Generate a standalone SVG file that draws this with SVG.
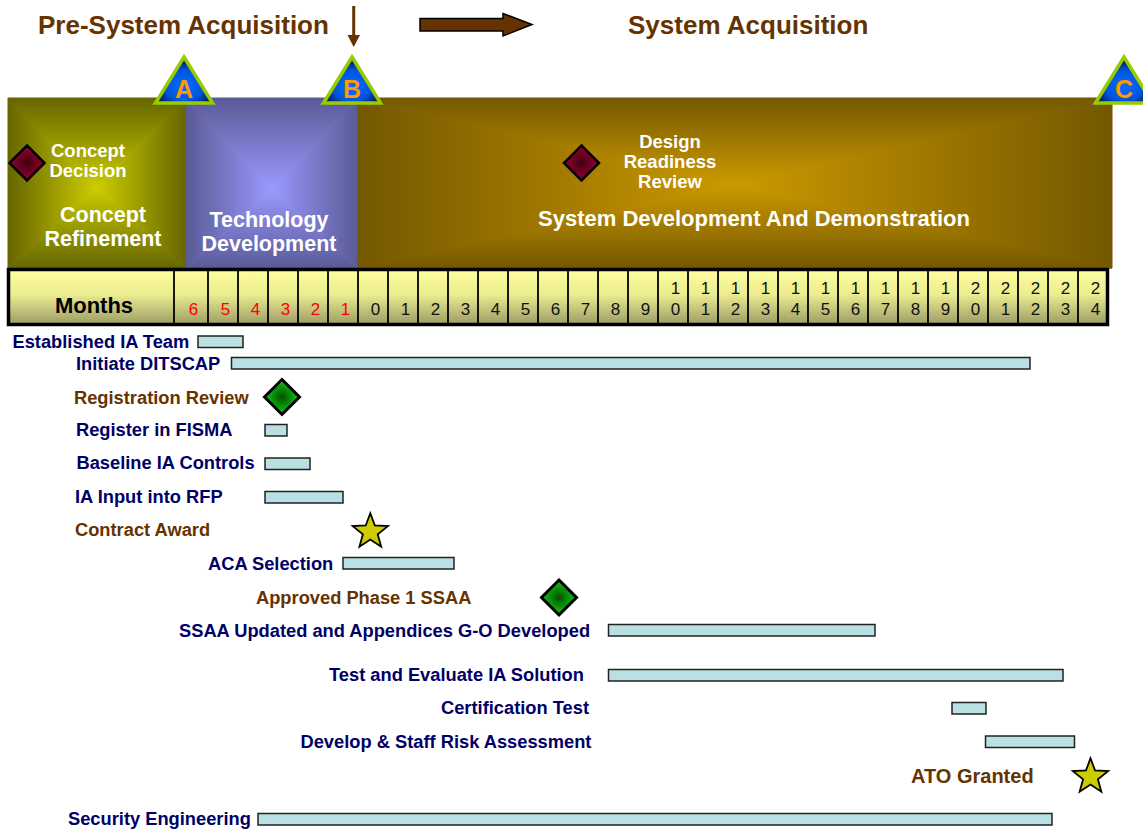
<svg xmlns="http://www.w3.org/2000/svg" xmlns:xlink="http://www.w3.org/1999/xlink" width="1143" height="829" viewBox="0 0 1143 829">
<style>
  text { font-family: "Liberation Sans", Arial, sans-serif; }
  .title { font-size: 26px; font-weight: bold; fill: #663300; }
  .lbl { font-size: 18.3px; font-weight: bold; fill: #000066; }
  .brn { fill: #663300; }
  .wt { fill: #ffffff; font-weight: bold; text-anchor: middle; }
  .s18 { font-size: 18.5px; }
  .s21 { font-size: 21.5px; }
  .s22 { font-size: 22px; }
  .bar { fill: #b9e0e3; stroke: #222222; stroke-width: 1.5; }
  .dg { font-size: 17px; text-anchor: middle; fill: #111111; }
  .neg { fill: #ff0000; }
  .sep { stroke: #000000; stroke-width: 1.8; }
  .tri { stroke: #99cc00; stroke-width: 3.5; stroke-linejoin: miter; fill: url(#gTri); }
  .tl { font-size: 25px; font-weight: bold; fill: #ff9900; text-anchor: middle; }
</style>
<defs>
  <!-- Concept Refinement box gradient -->
  <linearGradient id="gCRt" gradientUnits="userSpaceOnUse" x1="0" y1="98" x2="0" y2="188"><stop offset="0" stop-color="#666600"/><stop offset="1" stop-color="#cccc00"/></linearGradient>
  <linearGradient id="gCRb" gradientUnits="userSpaceOnUse" x1="0" y1="268" x2="0" y2="188"><stop offset="0" stop-color="#666600"/><stop offset="1" stop-color="#cccc00"/></linearGradient>
  <linearGradient id="gCRl" gradientUnits="userSpaceOnUse" x1="8" y1="0" x2="97" y2="0"><stop offset="0" stop-color="#666600"/><stop offset="1" stop-color="#cccc00"/></linearGradient>
  <linearGradient id="gCRr" gradientUnits="userSpaceOnUse" x1="186" y1="0" x2="97" y2="0"><stop offset="0" stop-color="#666600"/><stop offset="1" stop-color="#cccc00"/></linearGradient>
  <!-- Technology Development box gradient -->
  <linearGradient id="gTDt" gradientUnits="userSpaceOnUse" x1="0" y1="98" x2="0" y2="190"><stop offset="0" stop-color="#5a5a96"/><stop offset="1" stop-color="#9999ff"/></linearGradient>
  <linearGradient id="gTDb" gradientUnits="userSpaceOnUse" x1="0" y1="268" x2="0" y2="190"><stop offset="0" stop-color="#5a5a96"/><stop offset="1" stop-color="#9999ff"/></linearGradient>
  <linearGradient id="gTDl" gradientUnits="userSpaceOnUse" x1="186" y1="0" x2="272" y2="0"><stop offset="0" stop-color="#5a5a96"/><stop offset="1" stop-color="#9999ff"/></linearGradient>
  <linearGradient id="gTDr" gradientUnits="userSpaceOnUse" x1="358" y1="0" x2="272" y2="0"><stop offset="0" stop-color="#5a5a96"/><stop offset="1" stop-color="#9999ff"/></linearGradient>
  <!-- System Development box gradient -->
  <linearGradient id="gSDt" gradientUnits="userSpaceOnUse" x1="0" y1="98" x2="0" y2="185"><stop offset="0" stop-color="#745800"/><stop offset="1" stop-color="#cc9900"/></linearGradient>
  <linearGradient id="gSDb" gradientUnits="userSpaceOnUse" x1="0" y1="268" x2="0" y2="185"><stop offset="0" stop-color="#745800"/><stop offset="1" stop-color="#cc9900"/></linearGradient>
  <linearGradient id="gSDl" gradientUnits="userSpaceOnUse" x1="358" y1="0" x2="735" y2="0"><stop offset="0" stop-color="#745800"/><stop offset="1" stop-color="#cc9900"/></linearGradient>
  <linearGradient id="gSDr" gradientUnits="userSpaceOnUse" x1="1112" y1="0" x2="735" y2="0"><stop offset="0" stop-color="#745800"/><stop offset="1" stop-color="#cc9900"/></linearGradient>
  <!-- months cells -->
  <linearGradient id="gCell" x1="0" y1="0" x2="0" y2="1">
    <stop offset="0" stop-color="#ffffa0"/><stop offset="0.45" stop-color="#ecec90"/><stop offset="1" stop-color="#9c9c68"/>
  </linearGradient>
  <radialGradient id="gTri" cx="0.5" cy="0.62" r="0.55">
    <stop offset="0" stop-color="#0a6cff"/><stop offset="0.6" stop-color="#0055dd"/><stop offset="1" stop-color="#001a55"/>
  </radialGradient>
  <radialGradient id="gRed" cx="0.5" cy="0.5" r="0.5">
    <stop offset="0" stop-color="#3d0010"/><stop offset="1" stop-color="#a00033"/>
  </radialGradient>
  <radialGradient id="gGreen" cx="0.5" cy="0.5" r="0.5">
    <stop offset="0" stop-color="#005000"/><stop offset="1" stop-color="#11cc11"/>
  </radialGradient>
  <path id="dia" d="M0,-17.5 L17.5,0 L0,17.5 L-17.5,0 Z"/>
  <path id="star" d="M0,-18.5 L4.58,-6.31 L17.59,-5.72 L7.42,2.41 L10.87,14.97 L0,7.8 L-10.87,14.97 L-7.42,2.41 L-17.59,-5.72 L-4.58,-6.31 Z" fill="#cccc00" stroke="#000000" stroke-width="1.8" stroke-linejoin="miter"/>
  <polygon id="tri" points="0,0 28.5,46 -28.5,46"/>
</defs>
<rect x="0" y="0" width="1143" height="829" fill="#ffffff"/>

<!-- titles -->
<g id="titles">
  <text class="title" x="38" y="34">Pre-System Acquisition</text>
  <text class="title" x="628" y="34">System Acquisition</text>
</g>

<!-- connectors (arrows) -->
<g id="connectors">
  <line x1="353.7" y1="6" x2="353.7" y2="36" stroke="#663300" stroke-width="3"/>
  <polygon points="347.5,35 360,35 353.7,47" fill="#663300"/>
  <polygon points="420,18.5 503,18.5 503,13.5 532,24.5 503,36 503,31 420,31" fill="#663300" stroke="#000000" stroke-width="1.5"/>
</g>

<!-- phase blocks -->
<g id="phase-concept-refinement">
  <polygon points="8,98 186,98 97,188" fill="url(#gCRt)" stroke="url(#gCRt)" stroke-width="1"/>
  <polygon points="8,268 186,268 97,188" fill="url(#gCRb)" stroke="url(#gCRb)" stroke-width="1"/>
  <polygon points="8,98 8,268 97,188" fill="url(#gCRl)" stroke="url(#gCRl)" stroke-width="1"/>
  <polygon points="186,98 186,268 97,188" fill="url(#gCRr)" stroke="url(#gCRr)" stroke-width="1"/>
  <text class="wt s21" x="103" y="222">Concept</text>
  <text class="wt s21" x="103" y="246">Refinement</text>
</g>
<g id="phase-technology-development">
  <polygon points="186,98 358,98 272,190" fill="url(#gTDt)" stroke="url(#gTDt)" stroke-width="1"/>
  <polygon points="186,268 358,268 272,190" fill="url(#gTDb)" stroke="url(#gTDb)" stroke-width="1"/>
  <polygon points="186,98 186,268 272,190" fill="url(#gTDl)" stroke="url(#gTDl)" stroke-width="1"/>
  <polygon points="358,98 358,268 272,190" fill="url(#gTDr)" stroke="url(#gTDr)" stroke-width="1"/>
  <text class="wt s21" x="269" y="226.5">Technology</text>
  <text class="wt s21" x="269" y="250.5">Development</text>
</g>
<g id="phase-system-development">
  <polygon points="358,98 1112,98 735,185" fill="url(#gSDt)" stroke="url(#gSDt)" stroke-width="1"/>
  <polygon points="358,268 1112,268 735,185" fill="url(#gSDb)" stroke="url(#gSDb)" stroke-width="1"/>
  <polygon points="358,98 358,268 735,185" fill="url(#gSDl)" stroke="url(#gSDl)" stroke-width="1"/>
  <polygon points="1112,98 1112,268 735,185" fill="url(#gSDr)" stroke="url(#gSDr)" stroke-width="1"/>
  <text class="wt s22" x="754" y="226">System Development And Demonstration</text>
</g>

<!-- milestones -->
<g id="concept-decision">
  <use href="#dia" x="27" y="163" fill="url(#gRed)" stroke="#000000" stroke-width="2.5"/>
  <text class="wt s18" x="88" y="157">Concept</text>
  <text class="wt s18" x="88" y="177">Decision</text>
</g>
<g id="design-readiness-review">
  <use href="#dia" x="581.5" y="163" fill="url(#gRed)" stroke="#000000" stroke-width="2.5"/>
  <text class="wt s18" x="670" y="148">Design</text>
  <text class="wt s18" x="670" y="168">Readiness</text>
  <text class="wt s18" x="670" y="188">Review</text>
</g>
<g id="milestone-a">
  <use href="#tri" x="184" y="57" class="tri"/>
  <text class="tl" x="184" y="97.5">A</text>
</g>
<g id="milestone-b">
  <use href="#tri" x="352" y="57" class="tri"/>
  <text class="tl" x="352" y="97.5">B</text>
</g>
<g id="milestone-c">
  <use href="#tri" x="1124" y="57" class="tri"/>
  <text class="tl" x="1124" y="97.5">C</text>
</g>

<!-- months row -->
<g id="months-row">
  <rect x="8.5" y="269.5" width="1099" height="55" fill="url(#gCell)" stroke="#000000" stroke-width="3.5"/>
  <g class="sep">
    <line x1="174" y1="271" x2="174" y2="323"/>
    <line x1="208" y1="271" x2="208" y2="323"/>
    <line x1="238" y1="271" x2="238" y2="323"/>
    <line x1="268" y1="271" x2="268" y2="323"/>
    <line x1="298" y1="271" x2="298" y2="323"/>
    <line x1="328" y1="271" x2="328" y2="323"/>
    <line x1="358" y1="271" x2="358" y2="323"/>
    <line x1="388" y1="271" x2="388" y2="323"/>
    <line x1="418" y1="271" x2="418" y2="323"/>
    <line x1="448" y1="271" x2="448" y2="323"/>
    <line x1="478" y1="271" x2="478" y2="323"/>
    <line x1="508" y1="271" x2="508" y2="323"/>
    <line x1="538" y1="271" x2="538" y2="323"/>
    <line x1="568" y1="271" x2="568" y2="323"/>
    <line x1="598" y1="271" x2="598" y2="323"/>
    <line x1="628" y1="271" x2="628" y2="323"/>
    <line x1="658" y1="271" x2="658" y2="323"/>
    <line x1="688" y1="271" x2="688" y2="323"/>
    <line x1="718" y1="271" x2="718" y2="323"/>
    <line x1="748" y1="271" x2="748" y2="323"/>
    <line x1="778" y1="271" x2="778" y2="323"/>
    <line x1="808" y1="271" x2="808" y2="323"/>
    <line x1="838" y1="271" x2="838" y2="323"/>
    <line x1="868" y1="271" x2="868" y2="323"/>
    <line x1="898" y1="271" x2="898" y2="323"/>
    <line x1="928" y1="271" x2="928" y2="323"/>
    <line x1="958" y1="271" x2="958" y2="323"/>
    <line x1="988" y1="271" x2="988" y2="323"/>
    <line x1="1018" y1="271" x2="1018" y2="323"/>
    <line x1="1048" y1="271" x2="1048" y2="323"/>
    <line x1="1078" y1="271" x2="1078" y2="323"/>
  </g>
  <text x="94" y="313" font-size="22" font-weight="bold" text-anchor="middle" fill="#000000">Months</text>
  <g class="dg">
    <text class="neg" x="193.5" y="315">6</text>
    <text class="neg" x="225.5" y="315">5</text>
    <text class="neg" x="255.5" y="315">4</text>
    <text class="neg" x="285.5" y="315">3</text>
    <text class="neg" x="315.5" y="315">2</text>
    <text class="neg" x="345.5" y="315">1</text>
    <text x="375.5" y="315">0</text>
    <text x="405.5" y="315">1</text>
    <text x="435.5" y="315">2</text>
    <text x="465.5" y="315">3</text>
    <text x="495.5" y="315">4</text>
    <text x="525.5" y="315">5</text>
    <text x="555.5" y="315">6</text>
    <text x="585.5" y="315">7</text>
    <text x="615.5" y="315">8</text>
    <text x="645.5" y="315">9</text>
    <text x="675.5" y="294">1</text><text x="675.5" y="315">0</text>
    <text x="705.5" y="294">1</text><text x="705.5" y="315">1</text>
    <text x="735.5" y="294">1</text><text x="735.5" y="315">2</text>
    <text x="765.5" y="294">1</text><text x="765.5" y="315">3</text>
    <text x="795.5" y="294">1</text><text x="795.5" y="315">4</text>
    <text x="825.5" y="294">1</text><text x="825.5" y="315">5</text>
    <text x="855.5" y="294">1</text><text x="855.5" y="315">6</text>
    <text x="885.5" y="294">1</text><text x="885.5" y="315">7</text>
    <text x="915.5" y="294">1</text><text x="915.5" y="315">8</text>
    <text x="945.5" y="294">1</text><text x="945.5" y="315">9</text>
    <text x="975.5" y="294">2</text><text x="975.5" y="315">0</text>
    <text x="1005.5" y="294">2</text><text x="1005.5" y="315">1</text>
    <text x="1035.5" y="294">2</text><text x="1035.5" y="315">2</text>
    <text x="1065.5" y="294">2</text><text x="1065.5" y="315">3</text>
    <text x="1095.5" y="294">2</text><text x="1095.5" y="315">4</text>
  </g>
</g>

<!-- tasks -->
<g id="task-established-ia-team">
  <text class="lbl" x="12.5" y="348">Established IA Team</text>
  <rect class="bar" x="198" y="336" width="45" height="11.5"/>
</g>
<g id="task-initiate-ditscap">
  <text class="lbl" x="76" y="370">Initiate DITSCAP</text>
  <rect class="bar" x="231.5" y="357.5" width="798.5" height="11.5"/>
</g>
<g id="milestone-registration-review">
  <text class="lbl brn" x="74" y="404">Registration Review</text>
  <use href="#dia" x="282" y="397" fill="url(#gGreen)" stroke="#000000" stroke-width="3"/>
</g>
<g id="task-register-fisma">
  <text class="lbl" x="76" y="436">Register in FISMA</text>
  <rect class="bar" x="265" y="424.5" width="22" height="11.5"/>
</g>
<g id="task-baseline-ia-controls">
  <text class="lbl" x="76.5" y="469">Baseline IA Controls</text>
  <rect class="bar" x="265" y="458" width="45" height="11.5"/>
</g>
<g id="task-ia-input-rfp">
  <text class="lbl" x="75" y="503">IA Input into RFP</text>
  <rect class="bar" x="265" y="491.5" width="78" height="11.5"/>
</g>
<g id="milestone-contract-award">
  <text class="lbl brn" x="75" y="536">Contract Award</text>
  <use href="#star" x="370.3" y="531.8"/>
</g>
<g id="task-aca-selection">
  <text class="lbl" x="208" y="570">ACA Selection</text>
  <rect class="bar" x="343" y="557.5" width="111" height="11.5"/>
</g>
<g id="milestone-approved-phase1-ssaa">
  <text class="lbl brn" x="256" y="604">Approved Phase 1 SSAA</text>
  <use href="#dia" x="559" y="597.5" fill="url(#gGreen)" stroke="#000000" stroke-width="3"/>
</g>
<g id="task-ssaa-updated">
  <text class="lbl" x="179" y="637">SSAA Updated and Appendices G-O Developed</text>
  <rect class="bar" x="608.5" y="624.5" width="266.5" height="11.5"/>
</g>
<g id="task-test-evaluate">
  <text class="lbl" x="329" y="681">Test and Evaluate IA Solution</text>
  <rect class="bar" x="608.5" y="669.5" width="454.5" height="11.5"/>
</g>
<g id="task-certification-test">
  <text class="lbl" x="441" y="714">Certification Test</text>
  <rect class="bar" x="952" y="702.5" width="34" height="11.5"/>
</g>
<g id="task-risk-assessment">
  <text class="lbl" x="300.5" y="748">Develop &amp; Staff Risk Assessment</text>
  <rect class="bar" x="985.5" y="736" width="89" height="11.5"/>
</g>
<g id="milestone-ato-granted">
  <text class="lbl brn" x="911" y="783" style="font-size:20px">ATO Granted</text>
  <use href="#star" x="1090.5" y="776.8"/>
</g>
<g id="task-security-engineering">
  <text class="lbl" x="68" y="825">Security Engineering</text>
  <rect class="bar" x="258" y="813.5" width="794" height="11.5"/>
</g>
</svg>
